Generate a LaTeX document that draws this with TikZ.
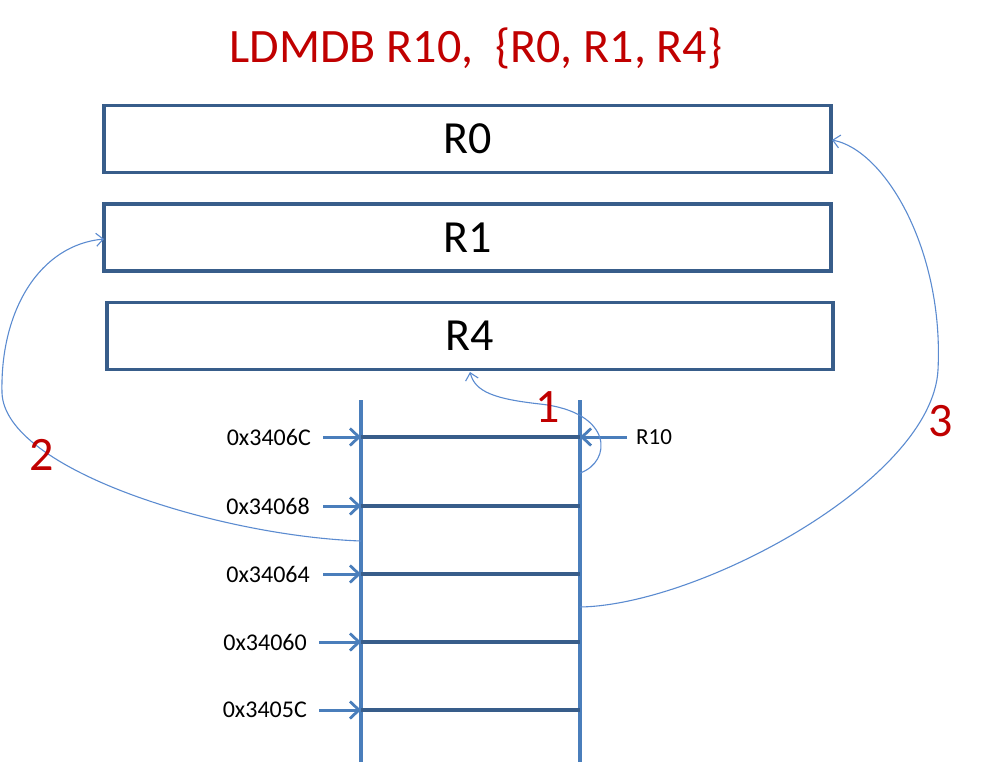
\documentclass[tikz,border=0pt]{standalone}
\usepackage{fontspec}
\setmainfont{Carlito}
\usetikzlibrary{arrows.meta}
\definecolor{boxblue}{HTML}{385D8A}
\definecolor{lineblue}{HTML}{4A7EBB}
\definecolor{curveblue}{HTML}{5B8BD0}
\definecolor{darkred}{HTML}{C00000}
\tikzset{
  regbox/.style={draw=boxblue, line width=3.2pt, minimum width=727pt, minimum height=67pt, inner sep=0pt, font=\fontsize{46}{52}\selectfont},
  memline/.style={draw=lineblue, line width=3.2pt},
  rowline/.style={draw=boxblue, line width=3.2pt},
  addrarrow/.style={draw=lineblue, line width=3pt, -{Straight Barb[length=9pt,width=17pt,line width=2.8pt]}},
  addrlabel/.style={anchor=east, inner sep=0pt, font=\fontsize{24}{28}\selectfont},
  curvearrow/.style={draw=curveblue, line width=1.1pt, -{Straight Barb[length=7pt,width=13pt,line width=1.1pt]}},
  num/.style={text=darkred, inner sep=0pt, font=\fontsize{48}{52}\selectfont},
}
\begin{document}
\begin{tikzpicture}[x=1pt,y=-1pt]
\useasboundingbox (0,0) rectangle (983,764);
% title
\node[text=darkred, font=\fontsize{48}{54}\selectfont, inner sep=0pt] (title) at (476,48) {LDMDB R10,\ \ \{R0, R1, R4\}};
% register boxes
\node[regbox] (r0) at (467.5,139) {R0};
\node[regbox] (r1) at (467.5,237.5) {R1};
\node[regbox, minimum width=726pt] (r4) at (470,336) {R4};
% memory column
\coordinate (lt) at (361,400); \coordinate (lb) at (361,762);
\coordinate (rt) at (580,400); \coordinate (rb) at (580,762);
\draw[memline] (lt) -- (lb);
\draw[memline] (rt) -- (rb);
\foreach \i/\y in {1/437,2/506,3/574,4/642,5/710} {
  \coordinate (L\i) at (361,\y);
  \coordinate (R\i) at (580,\y);
  \draw[rowline] (L\i) -- (R\i);
}
% address arrows and labels
\coordinate (s1) at (323,437);
\coordinate (s2) at (323,506);
\coordinate (s3) at (323,574);
\coordinate (s4) at (319,642);
\coordinate (s5) at (319,710);
\node[addrlabel] (a1) at (311,437) {0x3406C};
\node[addrlabel] (a2) at (310,506) {0x34068};
\node[addrlabel] (a3) at (310,574) {0x34064};
\node[addrlabel] (a4) at (307,642) {0x34060};
\node[addrlabel] (a5) at (307,710) {0x3405C};
\foreach \i in {1,...,5} { \draw[addrarrow] (s\i) -- (L\i); }
% R10 pointer
\coordinate (p10) at (627,437);
\node[anchor=west, inner sep=0pt, font=\fontsize{23}{27}\selectfont] (r10) at (636,437) {R10};
\draw[addrarrow] (p10) -- (R1);
% curve 1
\coordinate (c1s) at (580,473);
\coordinate (c1m) at (540,404);
\coordinate (c1e) at (470,372);
\draw[curvearrow] (c1s) .. controls (612,462) and (614,412) .. (c1m) .. controls (495,399) and (475,392) .. (c1e);
% curve 2
\coordinate (c2s) at (361,541);
\coordinate (c2m) at (2,393);
\coordinate (c2e) at (104,239);
\draw[curvearrow] (c2s) .. controls (220,536) and (5,470) .. (c2m) .. controls (0,310) and (40,245) .. (c2e);
% curve 3
\coordinate (c3s) at (580,607);
\coordinate (c3m) at (938,370);
\coordinate (c3e) at (832,140);
\draw[curvearrow] (c3s) .. controls (700,605) and (932,480) .. (c3m) .. controls (944,250) and (885,150) .. (c3e);
% numbers
\node[num] (n1) at (548,407) {1};
\node[num] (n2) at (42,455) {2};
\node[num] (n3) at (941,421) {3};
\end{tikzpicture}
\end{document}
